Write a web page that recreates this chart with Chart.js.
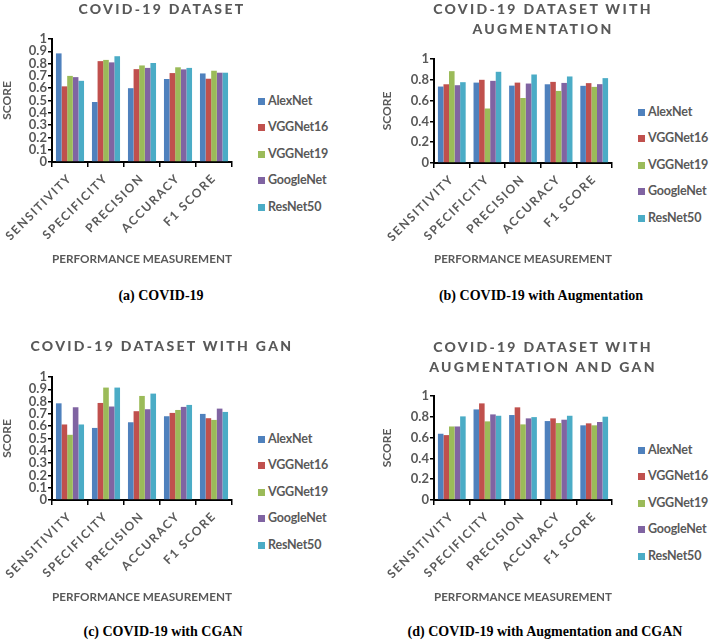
<!DOCTYPE html>
<html>
<head>
<meta charset="utf-8">
<script src="https://cdn.jsdelivr.net/npm/chart.js@4.4.1/dist/chart.umd.min.js"></script>
<style>
  body { margin: 0; background: #fff; }
  #wrap { position: relative; width: 709px; height: 643px; overflow: hidden; background: #fff; }
  canvas { position: absolute; }
  .title { position: absolute; text-align: center; font-family: Lato, sans-serif; font-weight: 900; font-size: 14px; letter-spacing: 2.3px; color: #595959; line-height: 20px; }
  .legend { position: absolute; font-family: Lato, sans-serif; font-weight: 700; font-size: 12.5px; letter-spacing: -0.2px; color: #595959; }
  .legend div { height: 26.4px; line-height: 26.4px; white-space: nowrap; }
  .legend span.box { display: inline-block; width: 7px; height: 7px; margin-right: 3px; vertical-align: 0px; }
  .caption { position: absolute; text-align: center; font-family: "Liberation Serif", serif; font-weight: 700; font-size: 14px; color: #000; }
</style>
</head>
<body>
<div id="wrap"></div>
<script>
// ===== data =====
const categories = ['SENSITIVITY', 'SPECIFICITY', 'PRECISION', 'ACCURACY', 'F1 SCORE']
const seriesNames = ['AlexNet', 'VGGNet16', 'VGGNet19', 'GoogleNet', 'ResNet50']
const seriesColors = ['#4F81BD', '#C0504D', '#9BBB59', '#8064A2', '#4BACC6']

// rows = series (AlexNet, VGGNet16, VGGNet19, GoogleNet, ResNet50), cols = categories
const scoresPlain = [
  [0.883, 0.488, 0.600, 0.675, 0.720],
  [0.615, 0.820, 0.755, 0.723, 0.677],
  [0.700, 0.830, 0.785, 0.770, 0.742],
  [0.690, 0.810, 0.765, 0.753, 0.726],
  [0.660, 0.860, 0.805, 0.765, 0.726],
]
const scoresAug = [
  [0.735, 0.773, 0.744, 0.757, 0.742],
  [0.757, 0.800, 0.773, 0.780, 0.768],
  [0.883, 0.524, 0.625, 0.693, 0.732],
  [0.748, 0.790, 0.764, 0.770, 0.758],
  [0.777, 0.877, 0.851, 0.832, 0.816],
]
const scoresGan = [
  [0.786, 0.586, 0.632, 0.681, 0.700],
  [0.614, 0.789, 0.722, 0.708, 0.665],
  [0.530, 0.914, 0.846, 0.732, 0.651],
  [0.754, 0.760, 0.738, 0.757, 0.743],
  [0.614, 0.914, 0.865, 0.773, 0.716],
]
const scoresAugGan = [
  [0.637, 0.871, 0.817, 0.759, 0.718],
  [0.624, 0.929, 0.891, 0.785, 0.737],
  [0.707, 0.756, 0.727, 0.740, 0.718],
  [0.707, 0.823, 0.785, 0.772, 0.750],
  [0.804, 0.810, 0.797, 0.810, 0.801],
]

const yTicksFine = [0, 0.1, 0.2, 0.3, 0.4, 0.5, 0.6, 0.7, 0.8, 0.9, 1]
const yTicksCoarse = [0, 0.2, 0.4, 0.6, 0.8, 1]

const panelTitles = ['COVID-19 DATASET', 'COVID-19 DATASET WITH<br>AUGMENTATION', 'COVID-19 DATASET WITH GAN', 'COVID-19 DATASET WITH<br>AUGMENTATION AND GAN']
const captions = ['(a) COVID-19', '(b) COVID-19 with Augmentation', '(c) COVID-19 with CGAN', '(d) COVID-19 with Augmentation and CGAN']

// ===== layout (padTop / bottom are relative to the panel canvas) =====
const panels = [
  { scores: scoresPlain,  ticks: yTicksFine,   x: 0,   y: 0,   yW: 52, padTop: 39, bottom: 162, titleX: 162, titleY: -1,  legX: 258, legY: 88,  capX: 161, capY: 288 },
  { scores: scoresAug,    ticks: yTicksCoarse, x: 380, y: 0,   yW: 54, padTop: 59, bottom: 163, titleX: 543, titleY: -1,  legX: 638, legY: 99,  capX: 541, capY: 288 },
  { scores: scoresGan,    ticks: yTicksFine,   x: 0,   y: 338, yW: 52, padTop: 39, bottom: 162, titleX: 162, titleY: 336, legX: 258, legY: 426, capX: 163, capY: 624 },
  { scores: scoresAugGan, ticks: yTicksCoarse, x: 380, y: 338, yW: 54, padTop: 58, bottom: 162, titleX: 543, titleY: 337, legX: 638, legY: 437, capX: 545, capY: 624 },
]

const FONT = 'Lato, sans-serif'
const GREY = '#595959'
const CW = 240, CH = 268

// x tick labels are letter-spaced in the original
const spacedLabels = {
  id: 'spacedLabels',
  afterLayout(chart) {
    const xs = chart.scales.x
    if (xs._spaced) return
    const orig = xs.drawLabels
    xs.drawLabels = function (area) {
      const ctx = this.ctx
      const prev = ctx.letterSpacing
      ctx.letterSpacing = '1.6px'
      orig.call(this, area)
      ctx.letterSpacing = prev
    }
    xs._spaced = true
  }
}

const wrap = document.getElementById('wrap')

panels.forEach((p, idx) => {
  const cv = document.createElement('canvas')
  cv.width = CW
  cv.height = CH
  cv.style.left = p.x + 'px'
  cv.style.top = p.y + 'px'
  cv.style.width = CW + 'px'
  cv.style.height = CH + 'px'
  wrap.appendChild(cv)

  const t = document.createElement('div')
  t.className = 'title'
  t.style.left = (p.titleX - 160) + 'px'
  t.style.width = '320px'
  t.style.top = p.titleY + 'px'
  t.innerHTML = panelTitles[idx]
  wrap.appendChild(t)

  const lg = document.createElement('div')
  lg.className = 'legend'
  lg.style.left = p.legX + 'px'
  lg.style.top = p.legY + 'px'
  lg.innerHTML = seriesNames.map((n, i) => `<div><span class="box" style="background:${seriesColors[i]}"></span>${n}</div>`).join('')
  wrap.appendChild(lg)

  const cap = document.createElement('div')
  cap.className = 'caption'
  cap.style.left = (p.capX - 200) + 'px'
  cap.style.width = '400px'
  cap.style.top = p.capY + 'px'
  cap.textContent = captions[idx]
  wrap.appendChild(cap)

  const xH = CH - p.bottom

  new Chart(cv, {
    type: 'bar',
    data: {
      labels: categories,
      datasets: seriesNames.map((n, i) => ({
        label: n,
        data: p.scores[i],
        backgroundColor: seriesColors[i],
        borderWidth: 0,
        categoryPercentage: 0.78,
        barPercentage: 1,
      }))
    },
    options: {
      responsive: false,
      animation: false,
      devicePixelRatio: 1,
      layout: { padding: { top: p.padTop, right: 8, left: 0, bottom: 0 } },
      plugins: { legend: { display: false }, tooltip: { enabled: false } },
      scales: {
        x: {
          grid: { display: true, drawOnChartArea: false, offset: true, color: '#000', lineWidth: 1.5, tickLength: 5 },
          border: { color: '#000', width: 2 },
          ticks: { color: GREY, font: { family: FONT, size: 12, weight: 'bold' }, minRotation: 45, maxRotation: 45, autoSkip: false, padding: 4 },
          title: { display: true, text: 'PERFORMANCE MEASUREMENT', color: GREY, font: { family: FONT, size: 12, weight: 'bold' }, padding: { top: 0, bottom: 2 } },
          afterFit: s => { s.height = xH },
        },
        y: {
          min: 0,
          max: 1,
          afterBuildTicks: s => { s.ticks = p.ticks.map(v => ({ value: v })) },
          grid: { display: true, drawOnChartArea: false, color: '#000', lineWidth: 1.5, tickLength: 4 },
          border: { color: '#000', width: 2 },
          ticks: { color: GREY, font: { family: FONT, size: 13, weight: 'bold', lineHeight: 1 }, padding: 1, autoSkip: false, callback: v => String(v) },
          title: { display: true, text: 'SCORE', color: GREY, font: { family: FONT, size: 12, weight: 'bold' }, padding: 0 },
          afterFit: s => { s.width = p.yW },
        }
      }
    },
    plugins: [spacedLabels]
  })
})
</script>
</body>
</html>
